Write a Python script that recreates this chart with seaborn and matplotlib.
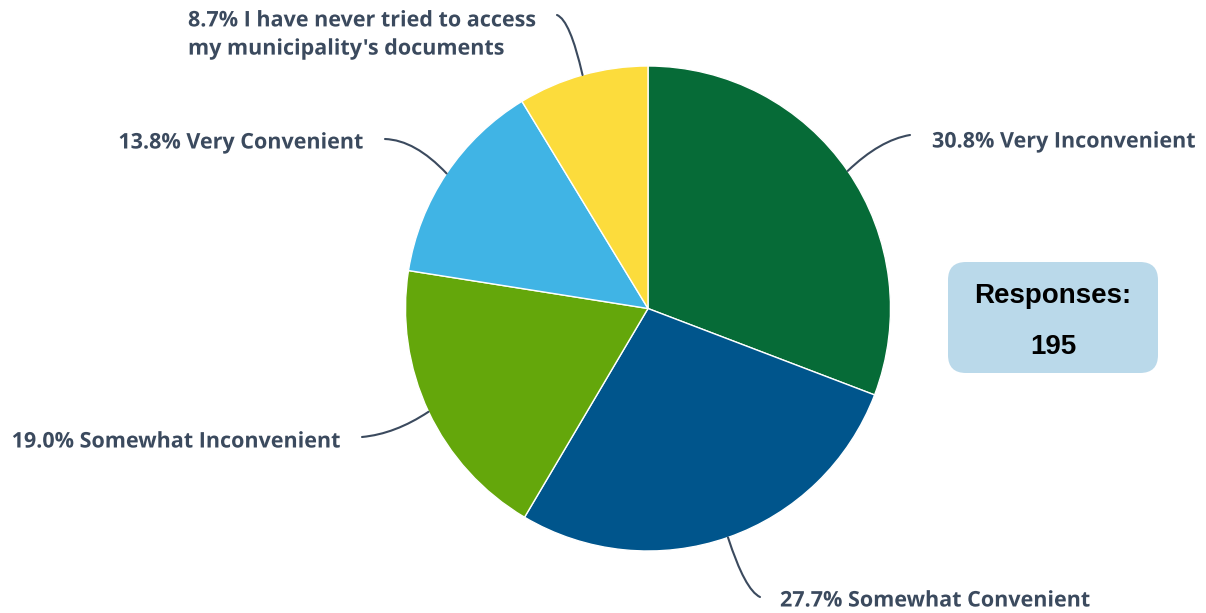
import matplotlib
matplotlib.use("Agg")
import matplotlib.pyplot as plt
import matplotlib.patheffects as pe
from matplotlib.path import Path
from matplotlib.patches import PathPatch, FancyBboxPatch
import numpy as np
import seaborn as sns

# Survey results
categories = [
    "Very Inconvenient",
    "Somewhat Convenient",
    "Somewhat Inconvenient",
    "Very Convenient",
    "I have never tried to access\nmy municipality's documents",
]
percentages = [30.8, 27.7, 19.0, 13.8, 8.7]
colors = ["#066b37", "#00558c", "#64a70b", "#40b4e5", "#fcdc3c"]
responses = 195

sns.set_theme(style="white")
plt.rcParams["font.family"] = ["Open Sans", "DejaVu Sans"]

W, H = 1206, 613
fig = plt.figure(figsize=(W / 100, H / 100), dpi=100)
ax = fig.add_axes([0, 0, 1, 1])

cx, cy, r = 648, H - 308.5, 242.5
wedges, _ = ax.pie(
    percentages, colors=colors, startangle=90, counterclock=False,
    center=(cx, cy), radius=r, frame=True,
    wedgeprops=dict(edgecolor="white", linewidth=1.0),
)
ax.set_xlim(0, W)
ax.set_ylim(0, H)
ax.set_aspect("equal")
ax.axis("off")

text_color = "#3b4a5e"
halo = [pe.withStroke(linewidth=3, foreground="white")]

# leader end, bezier control, text anchor (pixel layout, y from top), alignment
layout = [
    ((910, 135), (880, 140), (932, 142), "left"),
    ((760, 597), (745, 590), (780, 601), "left"),
    ((362, 437), (395, 434), (340, 442), "right"),
    ((385, 139), (415, 140), (363, 143), "right"),
    ((557, 15), (570, 20), (188, 35), "left"),
]

for w, pct, cat, (end, ctrl, txt, ha) in zip(wedges, percentages, categories, layout):
    mid = np.deg2rad((w.theta1 + w.theta2) / 2)
    sx, sy = cx + r * np.cos(mid), cy + r * np.sin(mid)
    verts = [(sx, sy), (ctrl[0], H - ctrl[1]), (end[0], H - end[1])]
    path = Path(verts, [Path.MOVETO, Path.CURVE3, Path.CURVE3])
    ax.add_patch(PathPatch(path, fill=False, edgecolor=text_color, linewidth=1.5,
                           capstyle="round"))
    ax.text(txt[0], H - txt[1], f"{pct:.1f}% {cat}", ha=ha, va="center",
            fontsize=15.5, fontweight="bold", color=text_color,
            linespacing=1.45, path_effects=halo)

# Responses box
box = FancyBboxPatch((948, H - 373), 210, 111,
                     boxstyle="round,pad=0,rounding_size=18",
                     facecolor="#bad9ea", edgecolor="none")
ax.add_patch(box)
for label, ypx in (("Responses:", 296), (f"{responses}", 347)):
    ax.text(1053, H - ypx, label, ha="center", va="center", fontsize=20,
            fontweight="bold", color="black",
            family=["Liberation Sans", "DejaVu Sans"])

fig.savefig("out.png", dpi=100, facecolor="white")
